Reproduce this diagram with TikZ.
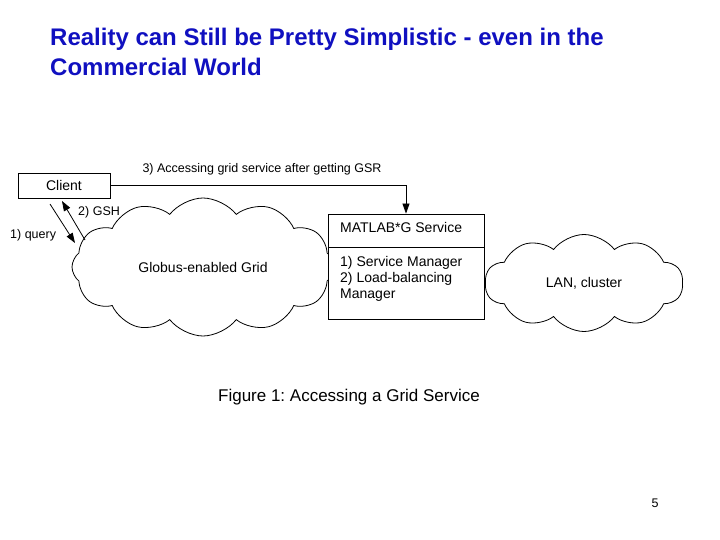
\documentclass[tikz,border=0pt]{standalone}
\usepackage{fontspec}
\setmainfont{Liberation Sans}
\frenchspacing
\usetikzlibrary{arrows.meta,positioning,shapes.symbols}
\definecolor{titleblue}{HTML}{1010C0}
\tikzset{>={Triangle[length=10pt,width=7pt]},box/.style={draw,fill=white,line width=.8pt,inner sep=0pt},cloudy/.style={cloud,draw,line width=.8pt,cloud ignores aspect,cloud puff arc=105,font=\fontsize{14}{16}\selectfont},arr/.style={->,line width=.8pt},lbl/.style={font=\fontsize{12.5}{15}\selectfont,inner sep=0pt},boxtext/.style={font=\fontsize{14}{16}\selectfont,inner sep=0pt,align=left}}
\begin{document}
\begin{tikzpicture}[x=1pt,y=-1pt]
\useasboundingbox (0,0) rectangle (720,540);
\node[anchor=north west,inner sep=0pt,align=left,text=titleblue,font=\fontsize{24}{30}\selectfont\bfseries] (title) at (50,28) {Reality can Still be Pretty Simplistic - even in the\\Commercial World};
% clouds first, the service box hides their ends
\node[cloudy,cloud puffs=12,minimum width=262,minimum height=138] (grid) at (203,267) {Globus-enabled Grid};
\node[cloudy,cloud puffs=10,minimum width=198,minimum height=97] (lan) at (584,283) {LAN, cluster};
\node[box,minimum width=92,minimum height=25,font=\fontsize{14}{16}\selectfont] (client) at (64,185.5) {Client};
\node[box,minimum width=156,minimum height=105] (matlab) at (406,266.5) {};
\draw[line width=.8pt] (matlab.west |- 0,247) -- (matlab.east |- 0,247);
\node[boxtext,anchor=base west] (svc) at (340,233) {MATLAB*G Service};
\node[boxtext,anchor=north west] (mgr) at (340,256) {1) Service Manager\\2) Load-balancing\\Manager};
% arrows
\draw[arr] (client.east) -| (matlab.north);
\node[lbl] (access) at (262,169) {3) Accessing grid service after getting GSR};
\coordinate (qa) at (50,204);
\coordinate (qb) at (75,243);
\coordinate (ga) at (85,240);
\coordinate (gb) at (62,201);
\draw[arr] (qa) -- (qb);
\draw[arr] (ga) -- (gb);
\node[lbl,anchor=west] (gsh) at (78,212) {2) GSH};
\node[lbl,anchor=west] (query) at (10,235) {1) query};
\node[font=\fontsize{17}{20}\selectfont,inner sep=0pt,anchor=base] (caption) at (349,401) {Figure 1: Accessing a Grid Service};
\node[font=\fontsize{12.5}{15}\selectfont,inner sep=0pt] (page) at (655,503) {5};
\end{tikzpicture}
\end{document}
